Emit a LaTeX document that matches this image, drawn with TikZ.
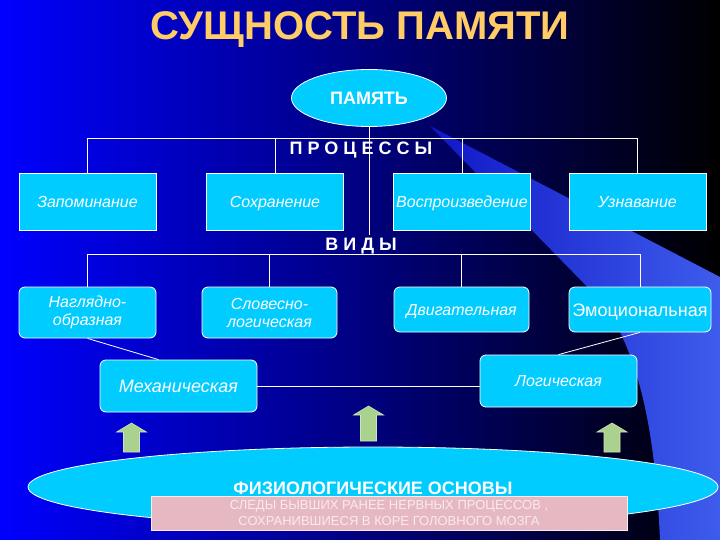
\documentclass[tikz,border=0pt]{standalone}
\usepackage{fontspec}
\setmainfont{Liberation Sans}
\definecolor{bgblue}{RGB}{0,0,255}
\definecolor{bgmid}{RGB}{0,0,185}
\definecolor{beamblue}{RGB}{62,92,236}
\definecolor{boxcyan}{RGB}{0,204,255}
\definecolor{titlegold}{RGB}{255,204,102}
\definecolor{arrowgreen}{RGB}{170,210,142}
\definecolor{notepink}{RGB}{230,184,194}
\definecolor{notetext}{RGB}{250,234,238}
\usetikzlibrary{calc,shapes.geometric}

\begin{document}
\begin{tikzpicture}[x=1pt,y=-1pt,
  boxbase/.style={draw=white,line width=0.8pt,fill=boxcyan,minimum width=137pt,
    inner sep=0pt,text=white,align=center,font=\fontsize{16}{18}\selectfont\itshape},
  procbox/.style={boxbase,minimum height=57pt,text height=11.5pt,text depth=0pt},
  kindbox/.style={procbox,rounded corners=6pt,minimum height=45pt},
  twoline/.style={boxbase,rounded corners=6pt,minimum height=51pt},
  link/.style={draw=white,line width=0.8pt},
  spaced/.style={text=white,anchor=base,
    font=\fontsize{18}{20}\selectfont\bfseries\addfontfeatures{LetterSpace=28}},
  upar/.style={fill=arrowgreen,draw=arrowgreen!60!white,line width=0.6pt}
]
  \useasboundingbox (0,0) rectangle (720,540);
  % background and light beam
  \shade[left color=bgblue,middle color=bgmid,right color=black] (0,0) rectangle (720,540);
  \shade[left color=beamblue!25!bgmid,right color=beamblue]
    (430,126) -- (720,277) -- (720,540) -- (660,540)
    .. controls (655,430) and (640,360) .. (605,305) -- cycle;

  % Title
  \node[font=\fontsize{40}{44}\selectfont\bfseries,text=titlegold,anchor=base] (title) at (360,40) {СУЩНОСТЬ ПАМЯТИ};

  % Memory
  \node[ellipse,draw=white,line width=0.8pt,fill=boxcyan,minimum width=155pt,minimum height=57pt,
    inner sep=0pt,text=white,font=\fontsize{18}{20}\selectfont\bfseries] (pam) at (369,98) {ПАМЯТЬ};

  % Processes
  \node[spaced] (proc) at (361,155) {ПРОЦЕССЫ};
  \node[procbox] (zap) at (87.5,201.5) {Запоминание};
  \node[procbox] (sokh) at (275,201.5) {Сохранение};
  \node[procbox] (vosp) at (462,201.5) {Воспроизведение};
  \node[procbox] (uzn) at (637.5,201.5) {Узнавание};
  \draw[link] (zap.north) -- ++(0,-34) -| (uzn.north);
  \draw[link] (sokh.north) -- ++(0,-34);
  \draw[link] (vosp.north) -- ++(0,-34);

  % Kinds
  \node[spaced] (vidy) at (361,251) {ВИДЫ};
  \draw[link] (pam.south) -- (pam.south |- vidy.north);
  \node[twoline] (nagl) at (87.5,312.5) {Наглядно-\\образная};
  \node[twoline,minimum width=135pt] (slov) at (269.5,312.5) {Словесно-\\логическая};
  \node[kindbox,minimum width=135pt] (dvig) at (461.5,309.5) {Двигательная};
  \node[kindbox,minimum width=142pt,text height=13pt,
    font=\fontsize{18}{20}\selectfont] (emo) at (640,309.5) {Эмоциональная};
  \node[kindbox,minimum width=157pt,minimum height=52pt,text height=13pt,
    font=\fontsize{18}{20}\selectfont\itshape] (mekh) at (178.5,386) {Механическая};
  \node[kindbox,minimum width=157pt,minimum height=52pt] (log) at (558.5,381) {Логическая};
  \draw[link] (nagl.north) -- ++(0,-32) -| (emo.north);
  \draw[link] (slov.north) -- ++(0,-32);
  \draw[link] (dvig.north) -- ++(0,-32);
  \draw[link] (nagl.south) -- ($(mekh.north)+(-20,0)$);
  \draw[link] (emo.south) -- (log.north);
  \draw[link] (mekh.east) -- (mekh.east -| log.west);

  % Arrows up from the base
  \foreach \ax/\tip/\bot in {131.5/423/452, 368.5/406/441, 612/423/452}
    \filldraw[upar] (\ax,\tip) -- (\ax+15,\tip+9) -- (\ax+8,\tip+9) -- (\ax+8,\bot)
      -- (\ax-8,\bot) -- (\ax-8,\tip+9) -- (\ax-15,\tip+9) -- cycle;

  % Physiological base
  \node[ellipse,draw=white,line width=0.8pt,fill=boxcyan,minimum width=690pt,minimum height=80pt,
    inner sep=0pt] (base) at (373,487) {};
  \node[font=\fontsize{18}{20}\selectfont\bfseries,text=white,anchor=base] (basetitle) at (373,494) {ФИЗИОЛОГИЧЕСКИЕ ОСНОВЫ};
  \node[fill=notepink,draw=white!70!notepink,minimum width=476pt,minimum height=34pt,inner sep=0pt,
    text=notetext,font=\fontsize{13}{16}\selectfont,align=center] (traces) at (389,513)
    {СЛЕДЫ БЫВШИХ РАНЕЕ НЕРВНЫХ ПРОЦЕССОВ ,\\СОХРАНИВШИЕСЯ В КОРЕ ГОЛОВНОГО МОЗГА};
\end{tikzpicture}
\end{document}
